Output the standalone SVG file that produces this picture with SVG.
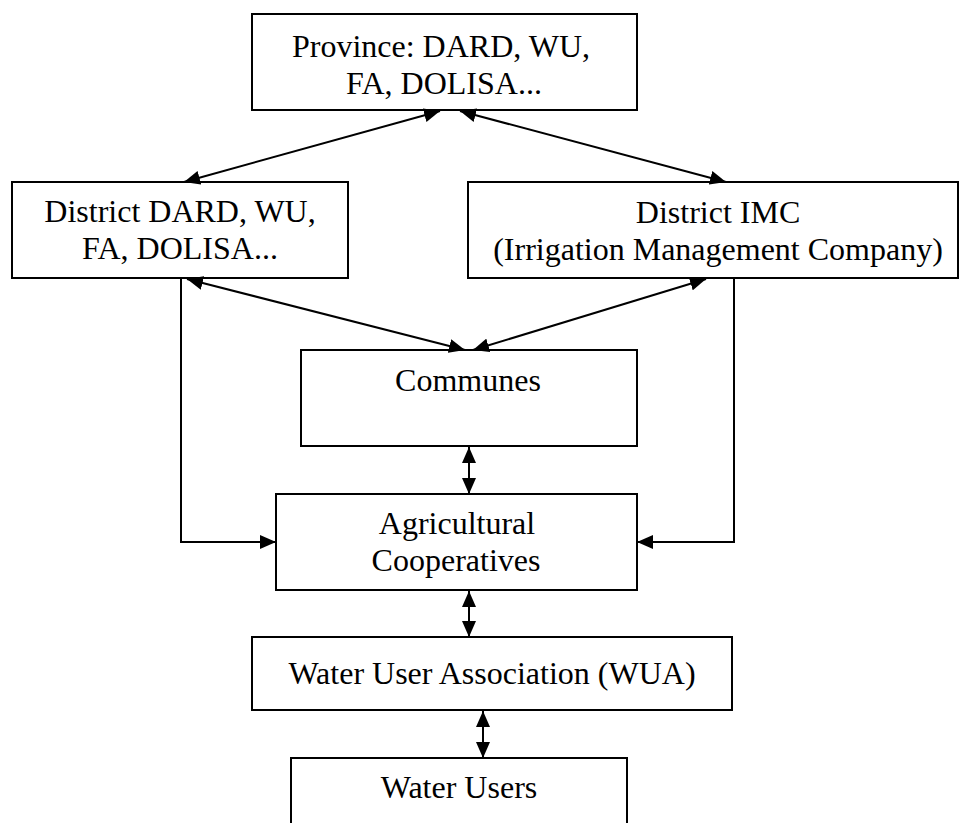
<svg xmlns="http://www.w3.org/2000/svg" width="960" height="823" viewBox="0 0 960 823">
<style>
.box{fill:#fff;stroke:#000;stroke-width:2}
.t{font-family:"Liberation Serif","Times New Roman",serif;font-size:32px;fill:#000;text-anchor:middle}
.c{fill:none;stroke:#000;stroke-width:2}
</style>
<defs>
<marker id="ah" markerUnits="userSpaceOnUse" markerWidth="16" markerHeight="14" refX="16" refY="7" orient="auto-start-reverse">
<path d="M0,0 L16,7 L0,14 z" fill="#000"/>
</marker>
</defs>
<rect width="960" height="823" fill="#fff"/>
<g id="province">
<rect class="box" x="252" y="14" width="385" height="96"/>
<text class="t" x="441" y="57">Province: DARD, WU,</text>
<text class="t" x="444" y="94">FA, DOLISA...</text>
</g>
<g id="district-dard">
<rect class="box" x="12" y="182" width="336" height="96"/>
<text class="t" x="180" y="222">District DARD, WU,</text>
<text class="t" x="180" y="259">FA, DOLISA...</text>
</g>
<g id="district-imc">
<rect class="box" x="468" y="182" width="490" height="96"/>
<text class="t" x="718" y="223">District IMC</text>
<text class="t" x="718" y="260">(Irrigation Management Company)</text>
</g>
<g id="communes">
<rect class="box" x="301" y="350" width="336" height="96"/>
<text class="t" x="468" y="391">Communes</text>
</g>
<g id="agri-coop">
<rect class="box" x="276" y="494" width="361" height="96"/>
<text class="t" x="457" y="534">Agricultural</text>
<text class="t" x="456" y="571">Cooperatives</text>
</g>
<g id="wua">
<rect class="box" x="252" y="637" width="480" height="73"/>
<text class="t" x="492" y="684">Water User Association (WUA)</text>
</g>
<g id="water-users">
<rect class="box" x="291" y="758" width="336" height="80"/>
<text class="t" x="459" y="798">Water Users</text>
</g>
<g id="connectors">
<line class="c" x1="440" y1="111" x2="184" y2="182" marker-start="url(#ah)" marker-end="url(#ah)"/>
<line class="c" x1="460" y1="111" x2="726" y2="182" marker-start="url(#ah)" marker-end="url(#ah)"/>
<line class="c" x1="187" y1="279" x2="465" y2="350" marker-start="url(#ah)" marker-end="url(#ah)"/>
<line class="c" x1="706" y1="279" x2="473" y2="350" marker-start="url(#ah)" marker-end="url(#ah)"/>
<line class="c" x1="469" y1="447" x2="469" y2="494" marker-start="url(#ah)" marker-end="url(#ah)"/>
<line class="c" x1="469" y1="591" x2="469" y2="637" marker-start="url(#ah)" marker-end="url(#ah)"/>
<line class="c" x1="483" y1="711" x2="483" y2="758" marker-start="url(#ah)" marker-end="url(#ah)"/>
<polyline class="c" points="181,278 181,542 276,542" marker-end="url(#ah)"/>
<polyline class="c" points="734,278 734,542 637,542" marker-end="url(#ah)"/>
</g>
</svg>
